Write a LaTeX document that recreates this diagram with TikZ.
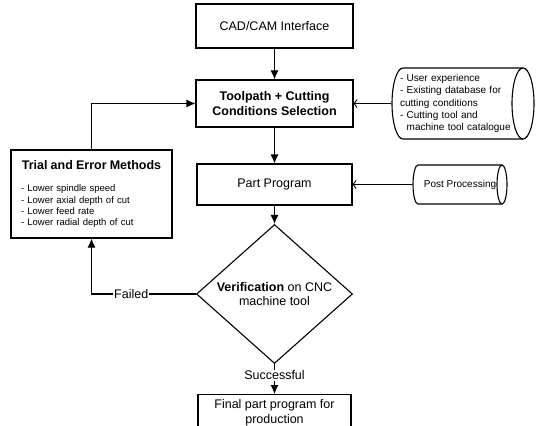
\documentclass[tikz,border=0pt]{standalone}
\usepackage{fontspec}
\setmainfont{Liberation Sans}
\usetikzlibrary{shapes.geometric,arrows.meta}
\begin{document}
\begin{tikzpicture}[x=1pt,y=-1pt,
  line width=1.1pt,
  box/.style={draw, rectangle, inner sep=0pt, align=center, font=\fontsize{12.5}{15}\selectfont},
  flow/.style={-{Latex[length=9pt,width=8pt]}},
  feed/.style={-{Straight Barb[length=3pt,width=8pt,line width=0.9pt]}},
  lbl/.style={fill=white, inner sep=1pt, font=\fontsize{12.5}{15}\selectfont},
  cylout/.style={draw, line width=1.1pt},
]
\clip (0,0) rectangle (537,425);
\fill[white] (0,0) rectangle (537,425);

\node[box, minimum width=157, minimum height=44] (cad) at (274.5,26) {CAD/CAM Interface};
\node[box, minimum width=157, minimum height=47] (tool) at (274.5,103.5) {\bfseries Toolpath + Cutting\\\bfseries Conditions Selection};
\node[box, minimum width=155, minimum height=41] (part) at (274.5,184.5) {Part Program};
\node[draw, diamond, minimum width=156, minimum height=126, inner sep=0pt, align=center,
      font=\fontsize{12.5}{14.5}\selectfont] (ver) at (274.5,294) {\textbf{Verification} on CNC\\machine tool};
\node[box, minimum width=153, minimum height=36, anchor=north, font=\fontsize{12.5}{15.5}\selectfont] (final) at (274.5,394) {Final part program for\\production};

\node[draw, rectangle, inner sep=0pt, minimum width=161, minimum height=88, text width=161,
      align=left, font=\fontsize{9.5}{11.3}\selectfont] (trial) at (91.5,194)
  {\makebox[161pt]{\fontsize{12.5}{15}\selectfont\bfseries Trial and Error Methods}\\[11pt]
   \hspace*{10pt}- Lower spindle speed\\
   \hspace*{10pt}- Lower axial depth of cut\\
   \hspace*{10pt}- Lower feed rate\\
   \hspace*{10pt}- Lower radial depth of cut};

% database cylinder: left bulge 392, right end 534, top 68, bottom 139
\node[inner sep=0pt, minimum width=142, minimum height=71, text width=126, align=left,
      font=\fontsize{10}{12.2}\selectfont] (db) at (463,103.5)
  {- User experience\\
   - Existing database for\\
   cutting conditions\\
   - Cutting tool and\\
   \phantom{- }machine tool catalogue};
\draw[cylout] (523,68) -- (403,68) arc[start angle=270, end angle=90, x radius=11, y radius=35.5] -- (523,139);
\draw[cylout] (523,103.5) ellipse[x radius=11, y radius=35.5];

% post processing cylinder: left 413, right 507, top 165, bottom 204
\node[inner sep=0pt, minimum width=94, minimum height=39, font=\fontsize{10}{12}\selectfont] (post) at (460,184.5) {Post Processing};
\draw[cylout] (502,165) -- (418,165) arc[start angle=270, end angle=90, x radius=5, y radius=19.5] -- (502,204);
\draw[cylout] (502,184.5) ellipse[x radius=5, y radius=19.5];

\draw[flow] (cad) -- (tool);
\draw[flow] (tool) -- (part);
\draw[flow] (part) -- (ver);
\draw[flow] (ver.south) -- node[lbl, pos=0.38] {Successful} (final.north);
\draw[flow] (ver.west) -| node[lbl, pos=0.31] {Failed} (trial.south);
\draw[flow] (trial.north) |- (tool.west);
\draw[feed] (db.west) -- (tool.east);
\draw[feed] (post.west) -- (part.east);
\end{tikzpicture}
\end{document}
